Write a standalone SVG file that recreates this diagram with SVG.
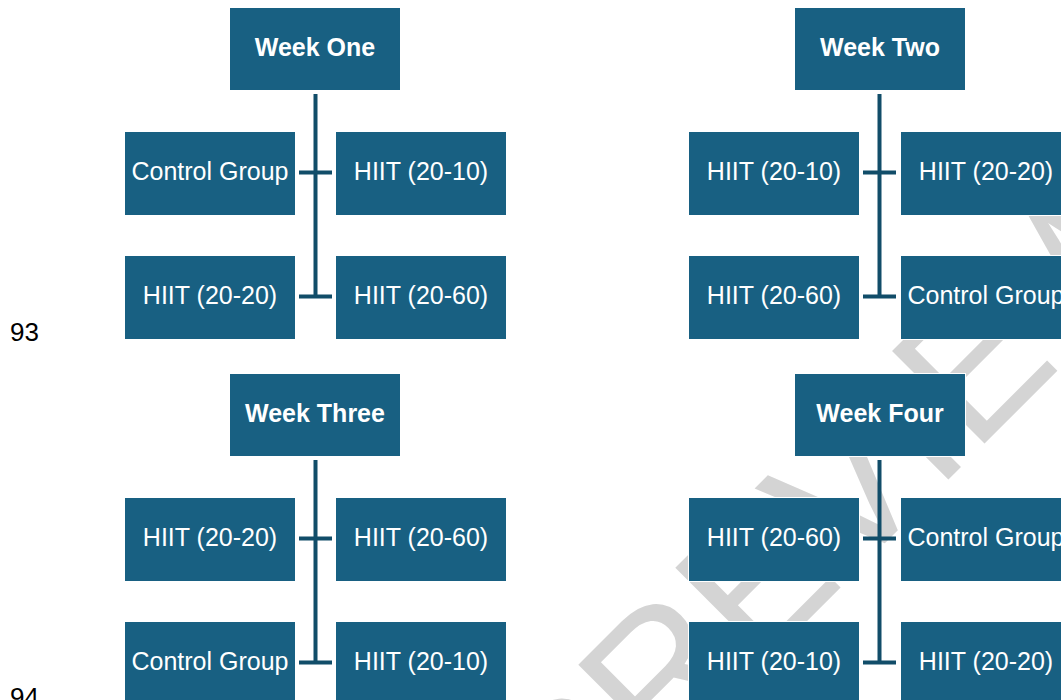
<svg xmlns="http://www.w3.org/2000/svg" width="1061" height="700" viewBox="0 0 1061 700">
<style>
.box{fill:#186082;stroke:#ffffff;stroke-width:1}
.t{font-family:"Liberation Sans",Arial,sans-serif;font-size:25px;fill:#ffffff;text-anchor:middle}
.h{font-weight:bold}
.ln{stroke:#114d69;stroke-width:4;fill:none}
.pg{font-family:"Liberation Sans",Arial,sans-serif;font-size:26px;fill:#000000}
.wm{font-family:"Liberation Sans",Arial,sans-serif;font-size:190px;fill:#d4d4d4;text-anchor:middle}
</style>
<rect width="1061" height="700" fill="#ffffff"/>
<text class="wm" transform="translate(880,548) rotate(-45)">PREVIEW</text>
<text class="pg" x="10" y="341">93</text>
<text class="pg" x="10" y="706">94</text>
<g id="connectors">
<path class="ln" d="M315.5,94 V298 M299,172.5 H332 M299,296.5 H332"/>
<path class="ln" d="M879.5,94 V298 M863,172.5 H896 M863,296.5 H896"/>
<path class="ln" d="M315.5,460 V664 M299,538.5 H332 M299,662.5 H332"/>
<path class="ln" d="M879.5,460 V664 M863,538.5 H896 M863,662.5 H896"/>
</g>
<g id="week-one">
<rect class="box" x="229.5" y="7.5" width="171" height="83"/><text class="t h" x="315" y="56">Week One</text>
</g>
<g id="w1-control"><rect class="box" x="124.5" y="131.5" width="171" height="84"/><text class="t" x="210" y="180">Control Group</text></g>
<g id="w1-2010"><rect class="box" x="335.5" y="131.5" width="171" height="84"/><text class="t" x="421" y="180">HIIT (20-10)</text></g>
<g id="w1-2020"><rect class="box" x="124.5" y="255.5" width="171" height="84"/><text class="t" x="210" y="304">HIIT (20-20)</text></g>
<g id="w1-2060"><rect class="box" x="335.5" y="255.5" width="171" height="84"/><text class="t" x="421" y="304">HIIT (20-60)</text></g>
<g id="week-two">
<rect class="box" x="794.5" y="7.5" width="171" height="83"/><text class="t h" x="880" y="56">Week Two</text>
</g>
<g id="w2-2010"><rect class="box" x="688.5" y="131.5" width="171" height="84"/><text class="t" x="774" y="180">HIIT (20-10)</text></g>
<g id="w2-2020"><rect class="box" x="900.5" y="131.5" width="171" height="84"/><text class="t" x="986" y="180">HIIT (20-20)</text></g>
<g id="w2-2060"><rect class="box" x="688.5" y="255.5" width="171" height="84"/><text class="t" x="774" y="304">HIIT (20-60)</text></g>
<g id="w2-control"><rect class="box" x="900.5" y="255.5" width="171" height="84"/><text class="t" x="986" y="304">Control Group</text></g>
<g id="week-three">
<rect class="box" x="229.5" y="373.5" width="171" height="83"/><text class="t h" x="315" y="422">Week Three</text>
</g>
<g id="w3-2020"><rect class="box" x="124.5" y="497.5" width="171" height="84"/><text class="t" x="210" y="546">HIIT (20-20)</text></g>
<g id="w3-2060"><rect class="box" x="335.5" y="497.5" width="171" height="84"/><text class="t" x="421" y="546">HIIT (20-60)</text></g>
<g id="w3-control"><rect class="box" x="124.5" y="621.5" width="171" height="84"/><text class="t" x="210" y="670">Control Group</text></g>
<g id="w3-2010"><rect class="box" x="335.5" y="621.5" width="171" height="84"/><text class="t" x="421" y="670">HIIT (20-10)</text></g>
<g id="week-four">
<rect class="box" x="794.5" y="373.5" width="171" height="83"/><text class="t h" x="880" y="422">Week Four</text>
</g>
<g id="w4-2060"><rect class="box" x="688.5" y="497.5" width="171" height="84"/><text class="t" x="774" y="546">HIIT (20-60)</text></g>
<g id="w4-control"><rect class="box" x="900.5" y="497.5" width="171" height="84"/><text class="t" x="986" y="546">Control Group</text></g>
<g id="w4-2010"><rect class="box" x="688.5" y="621.5" width="171" height="84"/><text class="t" x="774" y="670">HIIT (20-10)</text></g>
<g id="w4-2020"><rect class="box" x="900.5" y="621.5" width="171" height="84"/><text class="t" x="986" y="670">HIIT (20-20)</text></g>
</svg>
